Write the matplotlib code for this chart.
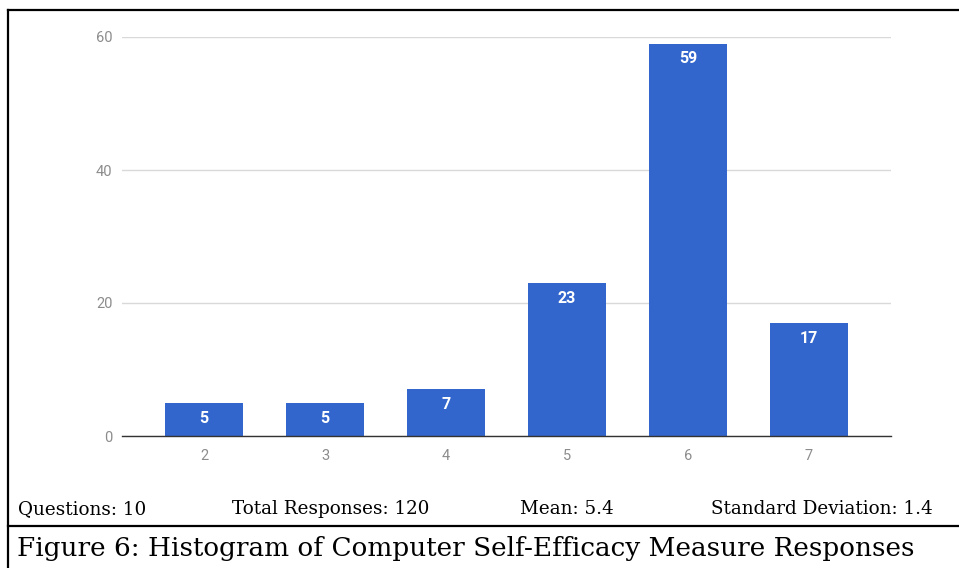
import matplotlib as mpl
mpl.use('Agg')
import matplotlib.pyplot as plt
from matplotlib.lines import Line2D

# Histogram data
scores = [2, 3, 4, 5, 6, 7]
counts = [5, 5, 7, 23, 59, 17]
yticks = [0, 20, 40, 60]
stats = ['Questions: 10', 'Total Responses: 120', 'Mean: 5.4', 'Standard Deviation: 1.4']
caption = 'Figure 6: Histogram of Computer Self-Efficacy Measure Responses'

W, H = 959, 568
fig = plt.figure(figsize=(W / 100, H / 100), dpi=100)

# axes placed in pixel terms
left, right, top, bottom = 122, 891, 37, 436
ax = fig.add_axes([left / W, 1 - bottom / H, (right - left) / W, (bottom - top) / H])

bar_color = '#3366cc'
bars = ax.bar(scores, counts, width=0.645, color=bar_color, zorder=3)
for b, v in zip(bars, counts):
    ax.annotate(str(v), (b.get_x() + b.get_width() / 2, v), xytext=(0, -11),
                textcoords='offset points', ha='center', va='center',
                color='white', fontsize=11.5, fontweight='bold', fontfamily='Roboto', zorder=4)

ax.set_xlim(1.32, 7.68)
ax.set_ylim(0, 60)
ax.set_xticks(scores)
ax.set_yticks(yticks)
ax.tick_params(length=0, colors='#8c8c8c', labelsize=10.5)
ax.tick_params(axis='y', pad=7)
ax.tick_params(axis='x', pad=9)
for lab in ax.get_xticklabels() + ax.get_yticklabels():
    lab.set_fontfamily('Roboto')
ax.grid(axis='y', color='#d9d9d9', linewidth=1, zorder=0)
for s in ['top', 'right', 'left']:
    ax.spines[s].set_visible(False)
ax.spines['bottom'].set_color('#333333')
ax.spines['bottom'].set_linewidth(1)
ax.spines['bottom'].set_zorder(5)

# frame lines of the figure box
def px_line(x0, y0, x1, y1):
    fig.add_artist(Line2D([x0 / W, x1 / W], [1 - y0 / H, 1 - y1 / H],
                          color='black', linewidth=1.6, transform=fig.transFigure))

px_line(8, 10, W, 10)
px_line(8, 10, 8, H)
px_line(8, 526, W, 526)

# stats row
stat_x = [18, 232, 520, 711]
for x, t in zip(stat_x, stats):
    fig.text(x / W, 1 - 514 / H, t, ha='left', va='baseline',
             fontfamily='DejaVu Serif', fontsize=13.2, color='black')

fig.text(17 / W, 1 - 556 / H, caption, ha='left', va='baseline',
         fontfamily='DejaVu Serif', fontsize=18.9, color='black')

fig.savefig('out.png', dpi=100)
